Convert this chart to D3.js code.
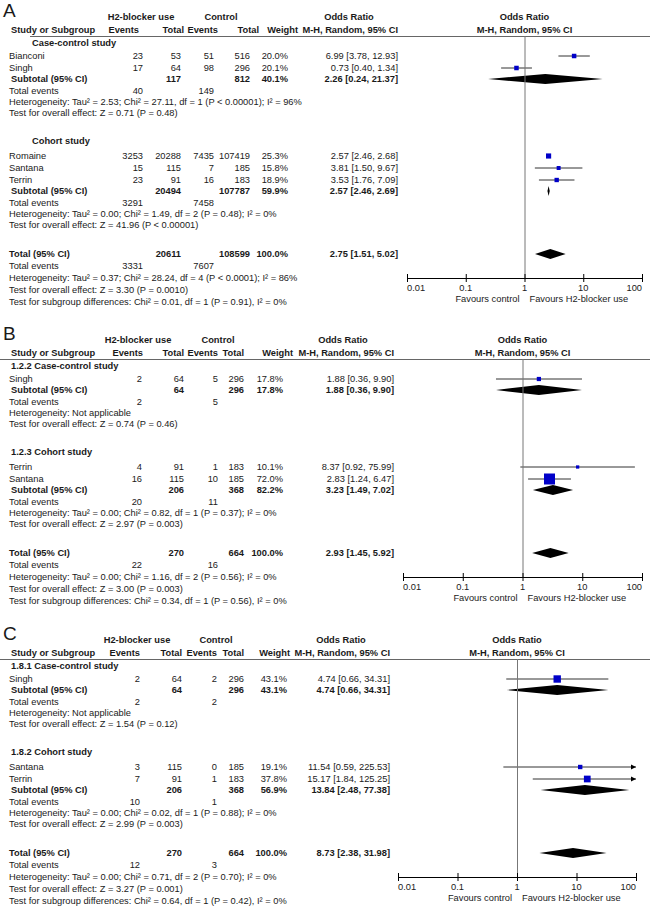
<!DOCTYPE html>
<meta charset="utf-8" />
<script src="https://d3js.org/d3.v7.min.js"></script>
<style>
  body { margin: 0; background: #fff; }
  text { font-family: "Liberation Sans", Arial, sans-serif; font-size: 9.3px; fill: #1a1a1a; }
</style>
<div id="chart"></div>
<script>
  // ---- values ----
  const panelLetters = ["A", "B", "C"];
  const groupTitles = [
    ["Case-control study", "Cohort study"],
    ["1.2.2 Case-control study", "1.2.3 Cohort study"],
    ["1.8.1 Case-control study", "1.8.2 Cohort study"],
  ];

  // individual studies
  const studyNames = [
    ["Bianconi", "Singh", "Romaine", "Santana", "Terrin"],
    ["Singh", "Terrin", "Santana"],
    ["Singh", "Santana", "Terrin"],
  ];
  const studyGroup = [[0, 0, 1, 1, 1], [0, 1, 1], [0, 1, 1]];
  const eventsH2 = [[23, 17, 3253, 15, 23], [2, 4, 16], [2, 3, 7]];
  const totalH2 = [[53, 64, 20288, 115, 91], [64, 91, 115], [64, 115, 91]];
  const eventsCtl = [[51, 98, 7435, 7, 16], [5, 1, 10], [2, 0, 1]];
  const totalCtl = [[516, 296, 107419, 185, 183], [296, 183, 185], [296, 185, 183]];
  const weights = [[20.0, 20.1, 25.3, 15.8, 18.9], [17.8, 10.1, 72.0], [43.1, 19.1, 37.8]];
  const oddsRatio = [[6.99, 0.73, 2.57, 3.81, 3.53], [1.88, 8.37, 2.83], [4.74, 11.54, 15.17]];
  const ciLow = [[3.78, 0.40, 2.46, 1.50, 1.76], [0.36, 0.92, 1.24], [0.66, 0.59, 1.84]];
  const ciHigh = [[12.93, 1.34, 2.68, 9.67, 7.09], [9.90, 75.99, 6.47], [34.31, 225.53, 125.25]];

  // subgroup summaries
  const subTotalH2 = [[117, 20494], [64, 206], [64, 206]];
  const subTotalCtl = [[812, 107787], [296, 368], [296, 368]];
  const subWeight = [[40.1, 59.9], [17.8, 82.2], [43.1, 56.9]];
  const subOR = [[2.26, 2.57], [1.88, 3.23], [4.74, 13.84]];
  const subLow = [[0.24, 2.46], [0.36, 1.49], [0.66, 2.48]];
  const subHigh = [[21.37, 2.69], [9.90, 7.02], [34.31, 77.38]];
  const subEventsH2 = [[40, 3291], [2, 20], [2, 10]];
  const subEventsCtl = [[149, 7458], [5, 11], [2, 1]];
  const subHet = [
    ["Heterogeneity: Tau² = 2.53; Chi² = 27.11, df = 1 (P < 0.00001); I² = 96%",
     "Heterogeneity: Tau² = 0.00; Chi² = 1.49, df = 2 (P = 0.48); I² = 0%"],
    ["Heterogeneity: Not applicable",
     "Heterogeneity: Tau² = 0.00; Chi² = 0.82, df = 1 (P = 0.37); I² = 0%"],
    ["Heterogeneity: Not applicable",
     "Heterogeneity: Tau² = 0.00; Chi² = 0.02, df = 1 (P = 0.88); I² = 0%"],
  ];
  const subTest = [
    ["Test for overall effect: Z = 0.71 (P = 0.48)", "Test for overall effect: Z = 41.96 (P < 0.00001)"],
    ["Test for overall effect: Z = 0.74 (P = 0.46)", "Test for overall effect: Z = 2.97 (P = 0.003)"],
    ["Test for overall effect: Z = 1.54 (P = 0.12)", "Test for overall effect: Z = 2.99 (P = 0.003)"],
  ];

  // overall totals
  const allTotalH2 = [20611, 270, 270];
  const allTotalCtl = [108599, 664, 664];
  const allOR = [2.75, 2.93, 8.73];
  const allLow = [1.51, 1.45, 2.38];
  const allHigh = [5.02, 5.92, 31.98];
  const allEventsH2 = [3331, 22, 12];
  const allEventsCtl = [7607, 16, 3];
  const allHet = [
    "Heterogeneity: Tau² = 0.37; Chi² = 28.24, df = 4 (P < 0.0001); I² = 86%",
    "Heterogeneity: Tau² = 0.00; Chi² = 1.16, df = 2 (P = 0.56); I² = 0%",
    "Heterogeneity: Tau² = 0.00; Chi² = 0.71, df = 2 (P = 0.70); I² = 0%",
  ];
  const allTest = [
    "Test for overall effect: Z = 3.30 (P = 0.0010)",
    "Test for overall effect: Z = 3.00 (P = 0.003)",
    "Test for overall effect: Z = 3.27 (P = 0.001)",
  ];
  const subgroupDiff = [
    "Test for subgroup differences: Chi² = 0.01, df = 1 (P = 0.91), I² = 0%",
    "Test for subgroup differences: Chi² = 0.34, df = 1 (P = 0.56), I² = 0%",
    "Test for subgroup differences: Chi² = 0.64, df = 1 (P = 0.42), I² = 0%",
  ];

  const axisTicks = [0.01, 0.1, 1, 10, 100];
  const axisTickLabels = ["0.01", "0.1", "1", "10", "100"];
  const colHeads = ["Events", "Total", "Events", "Total", "Weight", "M-H, Random, 95% CI"];

  // ---- layout ----
  const W = 650, H = 912;
  const panelTop = [0, 323, 623];
  // right edges: events, total, events, total, weight, odds ratio text
  const colRight = [
    [143, 181, 214, 250, 288, 398],
    [142, 184, 218, 244, 283, 394],
    [140, 182, 217, 244, 287, 390],
  ];
  const headRight = [
    [139, 184, 218, 259, 298, 398],
    [143, 184, 218, 244, 293, 394],
    [140, 182, 217, 244, 290, 390],
  ];
  const groupHeadX = [[141, 221, 349], [138, 218, 343], [137, 216, 341]];
  const plotRange = [[407, 642], [403, 642], [398, 636]];
  const lineStart = [30, 0, 0];
  const groupIndent = [32, 11, 11];

  const svg = d3.select("#chart").append("svg").attr("width", W).attr("height", H);
  const size = d3.scaleLinear().domain([0, 100]).range([2, 14.5]);
  const f1 = d3.format(".1f"), f2 = d3.format(".2f");
  const orText = (o, l, h) => `${f2(o)} [${f2(l)}, ${f2(h)}]`;

  panelLetters.forEach((letter, p) => {
    const g = svg.append("g");
    const top = panelTop[p];
    const col = colRight[p];
    const x = d3.scaleLog().domain([0.01, 100]).range(plotRange[p]);

    function txt(xp, yp, s, anchor, bold) {
      g.append("text")
        .attr("x", xp)
        .attr("y", yp)
        .attr("dy", "0.35em")
        .attr("text-anchor", anchor || "start")
        .style("font-weight", bold ? "bold" : null)
        .text(s);
    }

    function diamond(yp, o, l, h) {
      g.append("path")
        .attr("d", `M${x(l)},${yp}L${x(o)},${yp - 5}L${x(h)},${yp}L${x(o)},${yp + 5}Z`)
        .attr("fill", "#000");
    }

    // panel letter and headers
    g.append("text").attr("x", 3).attr("y", top + 17).style("font-size", "19px").text(letter);
    const hdr1 = top + 17, hdr2 = top + 30, lineY = top + 36;
    txt(groupHeadX[p][0], hdr1, "H2-blocker use", "middle", true);
    txt(groupHeadX[p][1], hdr1, "Control", "middle", true);
    txt(groupHeadX[p][2], hdr1, "Odds Ratio", "middle", true);
    txt(x(1), hdr1, "Odds Ratio", "middle", true);
    txt(11, hdr2, "Study or Subgroup", "start", true);
    colHeads.forEach((h, i) => txt(headRight[p][i], hdr2, h, "end", true));
    txt(x(1), hdr2, "M-H, Random, 95% CI", "middle", true);
    g.append("line")
      .attr("x1", lineStart[p]).attr("x2", W)
      .attr("y1", lineY + 0.5).attr("y2", lineY + 0.5)
      .attr("stroke", "#666");

    // subgroups and studies
    let cy = top + 43, testY = 0;
    groupTitles[p].forEach((title, k) => {
      if (k > 0) cy = testY + 28;
      txt(groupIndent[p], cy, title, "start", true);
      cy += k === 0 ? 13 : 15;
      studyNames[p].forEach((name, i) => {
        if (studyGroup[p][i] !== k) return;
        const sy = cy;
        txt(9, sy, name);
        txt(col[0], sy, eventsH2[p][i], "end");
        txt(col[1], sy, totalH2[p][i], "end");
        txt(col[2], sy, eventsCtl[p][i], "end");
        txt(col[3], sy, totalCtl[p][i], "end");
        txt(col[4], sy, f1(weights[p][i]) + "%", "end");
        txt(col[5], sy, orText(oddsRatio[p][i], ciLow[p][i], ciHigh[p][i]), "end");

        const lo = Math.max(ciLow[p][i], 0.01), hi = Math.min(ciHigh[p][i], 100);
        g.append("line")
          .attr("x1", x(lo)).attr("x2", x(hi))
          .attr("y1", sy).attr("y2", sy)
          .attr("stroke", "#333");
        if (ciHigh[p][i] > 100) {
          g.append("path")
            .attr("d", `M${x(100)},${sy}L${x(100) - 5},${sy - 2.5}L${x(100) - 5},${sy + 2.5}Z`)
            .attr("fill", "#000");
        }
        const s = size(weights[p][i]);
        g.append("rect")
          .attr("x", x(oddsRatio[p][i]) - s / 2)
          .attr("y", sy - s / 2)
          .attr("width", s).attr("height", s)
          .attr("fill", "#0000c8");
        cy += 12;
      });

      const subY = cy - 1;
      txt(11, subY, "Subtotal (95% CI)", "start", true);
      txt(col[1], subY, subTotalH2[p][k], "end", true);
      txt(col[3], subY, subTotalCtl[p][k], "end", true);
      txt(col[4], subY, f1(subWeight[p][k]) + "%", "end", true);
      txt(col[5], subY, orText(subOR[p][k], subLow[p][k], subHigh[p][k]), "end", true);
      diamond(subY, subOR[p][k], subLow[p][k], subHigh[p][k]);

      const teY = subY + 12;
      txt(9, teY, "Total events");
      txt(col[0], teY, subEventsH2[p][k], "end");
      txt(col[2], teY, subEventsCtl[p][k], "end");
      txt(9, teY + 11, subHet[p][k]);
      testY = teY + 22;
      txt(9, testY, subTest[p][k]);
    });

    // overall total
    const totY = testY + 29;
    txt(9, totY, "Total (95% CI)", "start", true);
    txt(col[1], totY, allTotalH2[p], "end", true);
    txt(col[3], totY, allTotalCtl[p], "end", true);
    txt(col[4], totY, "100.0%", "end", true);
    txt(col[5], totY, orText(allOR[p], allLow[p], allHigh[p]), "end", true);
    diamond(totY, allOR[p], allLow[p], allHigh[p]);
    txt(9, totY + 12, "Total events");
    txt(col[0], totY + 12, allEventsH2[p], "end");
    txt(col[2], totY + 12, allEventsCtl[p], "end");
    txt(9, totY + 24, allHet[p]);
    txt(9, totY + 36, allTest[p]);
    txt(9, totY + 48, subgroupDiff[p]);

    // axis and line of no effect
    const axisY = totY + 24;
    g.append("line")
      .attr("x1", x(1) + 0.5).attr("x2", x(1) + 0.5)
      .attr("y1", lineY).attr("y2", axisY)
      .attr("stroke", "#777");
    g.append("line")
      .attr("x1", x(0.01)).attr("x2", x(100))
      .attr("y1", axisY + 0.5).attr("y2", axisY + 0.5)
      .attr("stroke", "#000");
    axisTicks.forEach((t, i) => {
      g.append("line")
        .attr("x1", x(t) + 0.5).attr("x2", x(t) + 0.5)
        .attr("y1", axisY - 4).attr("y2", axisY + 4)
        .attr("stroke", "#000");
      const anchor = i === 0 ? "start" : i === axisTicks.length - 1 ? "end" : "middle";
      txt(x(t), axisY + 10, axisTickLabels[i], anchor);
    });
    txt(x(1) - 5, axisY + 21, "Favours control", "end");
    txt(x(1) + 5, axisY + 21, "Favours H2-blocker use", "start");
  });
</script>
